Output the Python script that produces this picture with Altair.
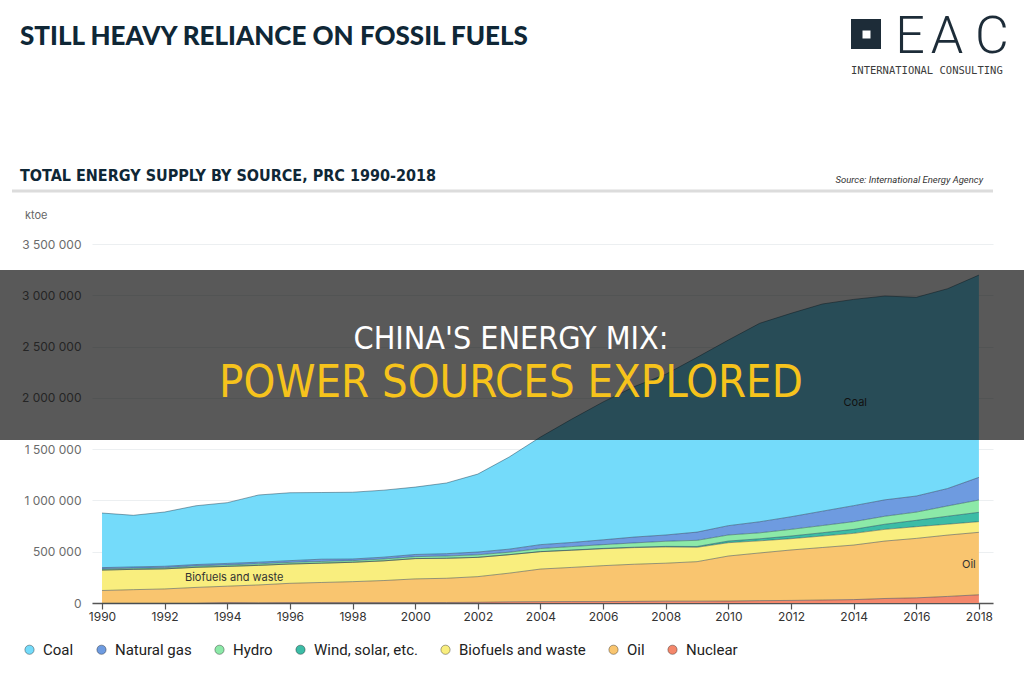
import altair as alt
import pandas as pd

# Total energy supply by source, PRC, in ktoe
years = list(range(1990, 2019))
coal = [532000, 503000, 529000, 573000, 592000, 655000, 662000, 650000, 651000, 653000,
        657000, 689000, 760000, 898000, 1049000, 1203000, 1344000, 1467000, 1567000, 1704000,
        1810000, 1935000, 1983000, 2020000, 2011000, 1987000, 1937000, 1948000, 1972000]
natural_gas = [13000, 13000, 14000, 14000, 15000, 16000, 17000, 22000, 16000, 18000,
               21000, 23000, 27000, 30000, 38000, 40000, 47000, 57000, 61000, 80000,
               91000, 108000, 123000, 140000, 156000, 160000, 157000, 170000, 221000]
hydro = [11000, 11000, 11000, 13000, 14000, 15000, 16000, 17000, 16000, 18000,
         19000, 22000, 25000, 24000, 30000, 34000, 37000, 42000, 50000, 60000,
         59000, 58000, 65000, 70000, 75000, 78000, 80000, 100000, 120000]
wind_solar = [0, 0, 0, 0, 0, 0, 0, 0, 0, 0,
              0, 0, 0, 0, 1000, 2000, 3000, 4000, 6000, 8000,
              16000, 20000, 26000, 32000, 39000, 50000, 62000, 78000, 91000]
biofuels = [199000, 198000, 196000, 196000, 193000, 191000, 188000, 188000, 189000, 192000,
            198000, 195000, 188000, 180000, 169000, 167000, 165000, 162000, 158000, 140000,
            130000, 118000, 110000, 112000, 114000, 114000, 114000, 106000, 104000]
oil = [122000, 130000, 137000, 152000, 160000, 173000, 188000, 196000, 204000, 215000,
       231000, 236000, 250000, 280000, 318000, 333000, 350000, 362000, 370000, 385000,
       439000, 465000, 492000, 512000, 532000, 560000, 580000, 598000, 609000]
nuclear = [0, 0, 0, 0, 4000, 3000, 4000, 4000, 4000, 4000,
           4000, 5000, 7000, 11000, 13000, 14000, 14000, 16000, 18000, 18000,
           19000, 23000, 25000, 29000, 33000, 44000, 50000, 64000, 80000]

sources = ["Coal", "Natural gas", "Hydro", "Wind, solar, etc.", "Biofuels and waste", "Oil", "Nuclear"]
colors = ["#74dbfa", "#6e9be0", "#8ce9a8", "#3cbca6", "#f9ee7e", "#f9c56f", "#f4876b"]
series = [coal, natural_gas, hydro, wind_solar, biofuels, oil, nuclear]

y_ticks = [0, 500000, 1000000, 1500000, 2000000, 2500000, 3000000, 3500000]
x_ticks = list(range(1990, 2019, 2))

rows = []
for i, (name, vals) in enumerate(zip(sources, series)):
    for yr, v in zip(years, vals):
        rows.append({"year": yr, "source": name, "value": v, "rank": len(sources) - 1 - i})
df = pd.DataFrame(rows)

# in-chart series labels, placed in data space
ann_left = pd.DataFrame({"year": [1992.65], "y1": [243000], "label": ["Biofuels and waste"]})
ann_center = pd.DataFrame({"year": [2017.68, 2014.05], "y1": [370000, 1950000], "label": ["Oil", "Coal"]})

W, H = 901, 359
PL, PT = 92, 244
one = pd.DataFrame({"k": [0]})

AX_FONT = "Inter"
x_scale = alt.Scale(domain=[1989.68, 2018.45], nice=False, zero=False)
y_scale = alt.Scale(domain=[0, 3500000], nice=False)

base = alt.Chart(df).transform_stack(
    stack="value", groupby=["year"], as_=["y0", "y1"],
    sort=[alt.SortField("rank", order="ascending")],
)

areas = base.mark_area(opacity=1).encode(
    x=alt.X("year:Q", scale=x_scale,
            axis=alt.Axis(values=x_ticks, format="d", title=None, grid=False,
                          labelFont=AX_FONT, labelFontSize=12, labelColor="#333333",
                          domainColor="#555555", domainWidth=1.6, tickColor="#555555",
                          tickSize=6, tickWidth=1.2, labelPadding=2, labelFlush=False)),
    y=alt.Y("y1:Q", stack=None, scale=y_scale,
            axis=alt.Axis(values=y_ticks, title=None, domain=False, ticks=False,
                          labelExpr="replace(replace(format(datum.value, ','), ',', ' '), ',', ' ')",
                          labelFont=AX_FONT, labelFontSize=12, labelColor="#6b6b6b",
                          labelPadding=11, grid=True, gridColor="#eceff1", gridWidth=1.2)),
    y2="y0:Q",
    color=alt.Color("source:N", scale=alt.Scale(domain=sources, range=colors),
                    legend=alt.Legend(orient="none", legendX=-70, legendY=398,
                                      direction="horizontal", title=None,
                                      symbolType="circle", symbolSize=85, symbolOpacity=1,
                                      symbolStrokeWidth=1, symbolStrokeColor="rgba(0,0,0,0.35)",
                                      labelFont="Roboto", labelFontSize=15, labelColor="#222222",
                                      labelOffset=6, columnPadding=20)),
)

edges = base.mark_line(strokeWidth=1, color="rgba(25,55,75,0.45)").encode(
    x=alt.X("year:Q", scale=x_scale),
    y=alt.Y("y1:Q", stack=None, scale=y_scale),
    detail="source:N",
)

lab_left = alt.Chart(ann_left).mark_text(
    font=AX_FONT, fontSize=11, color="#333333", baseline="middle", align="left"
).encode(x=alt.X("year:Q", scale=x_scale), y=alt.Y("y1:Q", scale=y_scale), text="label:N")
lab_center = alt.Chart(ann_center).mark_text(
    font=AX_FONT, fontSize=11, color="#333333", baseline="middle", align="center"
).encode(x=alt.X("year:Q", scale=x_scale), y=alt.Y("y1:Q", scale=y_scale), text="label:N")


def txt(s, x, y, size, color, font, weight="normal", align="left", style="normal", baseline="alphabetic"):
    return alt.Chart(one).mark_text(
        text=s, font=font, fontSize=size, fontWeight=weight, fontStyle=style,
        color=color, align=align, baseline=baseline,
    ).encode(x=alt.value(x - PL), y=alt.value(y - PT))


def box(x1, x2, y1, y2, color, opacity=1.0):
    return alt.Chart(one).mark_rect(color=color, opacity=opacity).encode(
        x=alt.value(x1 - PL), x2=alt.value(x2 - PL), y=alt.value(y1 - PT), y2=alt.value(y2 - PT)
    )


NAVY = "#0f2736"
NARROW = "Liberation Sans Narrow, DejaVu Sans Condensed, Roboto"
header = [
    txt("STILL HEAVY RELIANCE ON FOSSIL FUELS", 20, 45, 26, NAVY, "Lato", weight=900),
    box(851, 881, 19, 49, "#1d2c38"),
    box(862.5, 870.5, 30.5, 38.5, "#ffffff"),
    txt("E", 910, 53, 52, "#1d2c38", "Roboto", weight=300, align="center"),
    txt("A", 947, 53, 52, "#1d2c38", "Roboto", weight=300, align="center"),
    txt("C", 992, 53, 52, "#1d2c38", "Roboto", weight=300, align="center"),
    txt("INTERNATIONAL CONSULTING", 851, 74, 10.5, "#3c3c3c", "DejaVu Sans Mono"),
    txt("TOTAL ENERGY SUPPLY BY SOURCE, PRC 1990-2018", 20, 181, 16, NAVY, NARROW, weight="bold"),
    txt("Source: International Energy Agency", 983, 183, 9.5, "#333333", "Roboto",
        align="right", style="italic"),
    alt.Chart(one).mark_rule(color="#dcdcdc", strokeWidth=3).encode(
        x=alt.value(12 - PL), x2=alt.value(993 - PL), y=alt.value(191 - PT)),
    txt("ktoe", 25, 219, 11, "#666666", AX_FONT),
]

overlay = [
    box(0, 1024, 270, 440, "#000000", opacity=0.65),
    txt("CHINA'S ENERGY MIX:", 511, 349, 32, "#ffffff", NARROW, align="center"),
    txt("POWER SOURCES EXPLORED", 511, 397, 45, "#f6c31c", NARROW, align="center"),
]

chart = alt.layer(
    areas, edges, lab_left, lab_center, *header, *overlay
).properties(
    width=W, height=H,
    autosize=alt.AutoSizeParams(type="none"),
    padding={"left": PL, "top": PT, "right": 1024 - PL - W, "bottom": 676 - PT - H},
    background="white",
).configure_view(stroke=None)

chart.save("out.html", embed_options={"renderer": "svg", "actions": False})
